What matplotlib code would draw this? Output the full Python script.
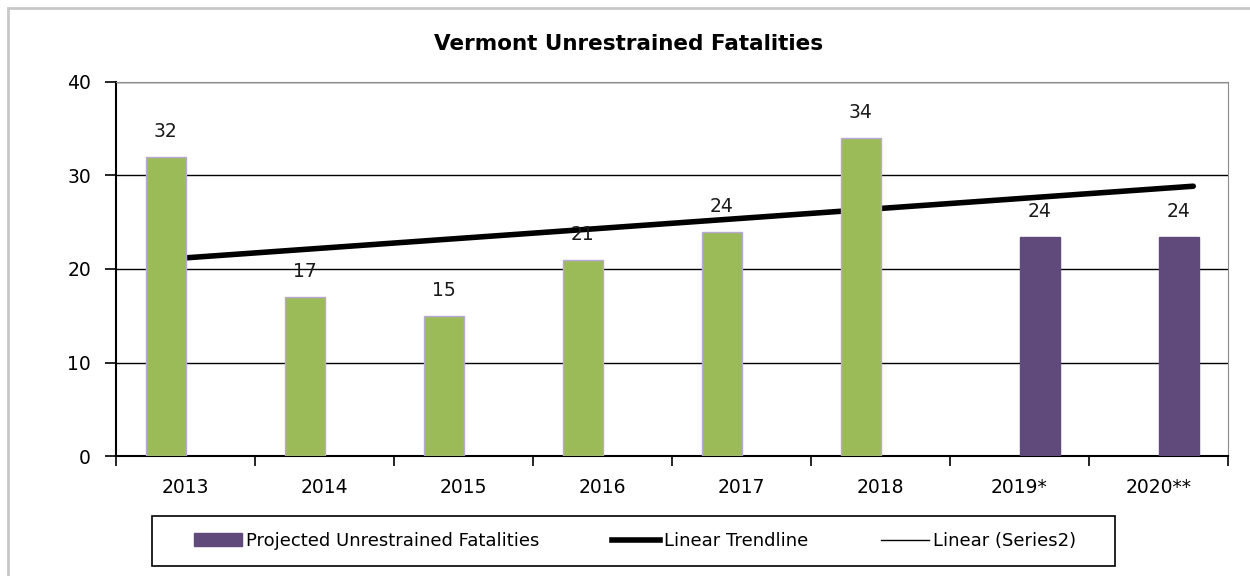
import numpy as np
import matplotlib
matplotlib.use("Agg")
import matplotlib.pyplot as plt
from matplotlib.patches import Patch, Rectangle
from matplotlib.lines import Line2D

# chart data
years = ["2013", "2014", "2015", "2016", "2017", "2018", "2019*", "2020**"]
actual = [32, 17, 15, 21, 24, 34]
projected = [23.4, 23.4]
projected_labels = ["24", "24"]

green = "#9BBB59"
purple = "#604A7B"
edge = "#B9A8D6"

plt.rcParams['font.family'] = ['DejaVu Sans']
FS = 13.5
W, H = 1250, 576

fig = plt.figure(figsize=(W / 100, H / 100), dpi=100)
ax = fig.add_axes([116 / W, 120 / H, 1112 / W, 374 / H])

n = len(years)
x = np.arange(n)
bw = 40 / 139

# green (actual) bars sit left of category centre, purple right
xa = x[:len(actual)]
ax.bar(xa - bw / 2, actual, width=bw, color=green, edgecolor=edge, linewidth=1, zorder=3)
xp = x[len(actual):]
ax.bar(xp + bw / 2, projected, width=bw, color=purple, edgecolor=purple, linewidth=1, zorder=3)

for xi, v in zip(xa, actual):
    ax.text(xi - bw / 2, v + 2.7, str(v), ha="center", va="center", fontsize=FS, color="#1a1a1a")
for xi, v, lab in zip(xp, projected, projected_labels):
    ax.text(xi + bw / 2, v + 2.7, lab, ha="center", va="center", fontsize=FS, color="#1a1a1a")

# linear trend of actual values, extended past the last category
coef = np.polyfit(xa, actual, 1)
tx = np.array([0, n - 1 + 0.25])
ax.plot(tx, np.polyval(coef, tx), color="black", lw=4, solid_capstyle="round", zorder=2)

ax.set_xlim(-0.5, n - 0.5)
ax.set_ylim(0, 40)
ax.set_yticks([0, 10, 20, 30, 40])
ax.yaxis.grid(True, color="black", lw=1)
ax.set_axisbelow(True)
ax.set_xticks(np.arange(-0.5, n, 1))
ax.set_xticklabels([])
ax.set_xticks(x, minor=True)
ax.set_xticklabels(years, minor=True, fontsize=FS)
ax.tick_params(axis="x", which="minor", length=0, pad=16)
ax.tick_params(axis="x", which="major", length=7, width=1.2, direction="out")
ax.tick_params(axis="y", length=8, width=1.2, labelsize=FS, pad=10)
for s in ["top", "right"]:
    ax.spines[s].set_color("#8c8c8c")
ax.spines["left"].set_linewidth(1.5)
ax.spines["bottom"].set_linewidth(1.5)

fig.text(629 / W, 1 - 44 / H, "Vermont Unrestrained Fatalities", ha="center", va="center",
         fontsize=15.5, fontweight="bold")

# outer chart frame (cut off at right and bottom)
fig.patches.append(Rectangle((8 / W, -0.1), 1.2, 1 - 8 / H + 0.1, transform=fig.transFigure,
                             fill=False, edgecolor="#c8c8c8", lw=2))

# legend box drawn separately so its padding can match
fig.patches.append(Rectangle((152 / W, 1 - 566 / H), 963 / W, 50 / H, transform=fig.transFigure,
                             fill=False, edgecolor="black", lw=1.2))
handles = [Patch(facecolor=purple, edgecolor=purple),
           Line2D([], [], color="black", lw=4),
           Line2D([], [], color="black", lw=1)]
labels = ["Projected Unrestrained Fatalities", "Linear Trendline", "Linear (Series2)"]
leg = fig.legend(handles, labels, loc="center", bbox_to_anchor=(635 / W, 1 - 541 / H),
                 ncol=3, fontsize=13, frameon=False,
                 handlelength=2.65, handletextpad=0.25, columnspacing=4.0)

fig.savefig("out.png", dpi=100)
